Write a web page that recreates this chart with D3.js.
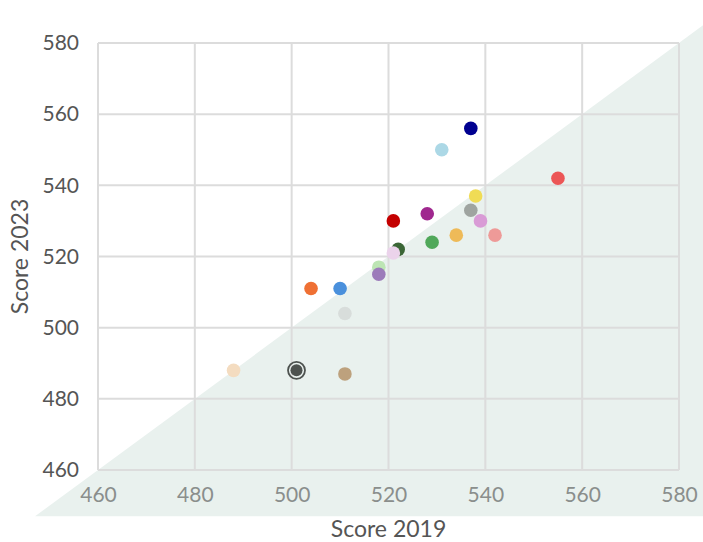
<!DOCTYPE html>
<html><head><meta charset="utf-8">
<script src="https://cdn.jsdelivr.net/npm/d3@7"></script>
<style>body{margin:0;background:#fff}svg{display:block;font-family:Lato,sans-serif}</style>
</head><body><svg id="c" width="703" height="542"></svg>
<script>
const score2019 = [537,531,538,537,539,542,534,529,528,521,522,521,518,518,504,510,511,501,511,488,555];
const score2023 = [556,550,537,533,530,526,526,524,532,530,522,521,517,515,511,511,504,488,487,488,542];
const colors = ["#000090","#acd8e6","#f0dc55","#9fa4a0","#d99bd6","#ee9a98","#eeba58","#50a85a","#a0288f","#c40000","#3b6636","#ebd3eb","#bde5b4","#9c7bba","#ef7034","#4a90dc","#d8dddb","#4d524f","#bda17d","#f4dcc0","#ec5656"];
const highlighted = [false,false,false,false,false,false,false,false,false,false,false,false,false,false,false,false,false,true,false,false,false];
const ticks = [460,480,500,520,540,560,580];

const svg = d3.select("#c");
const x = d3.scaleLinear().domain([460,580]).range([98,679]);
const y = d3.scaleLinear().domain([460,580]).range([470,43]);
const grid = "#dcdcdc";

const lo = 447, hi = 590;
svg.append("path").attr("d",d3.line()([[x(lo),y(lo)],[x(hi),y(hi)],[x(hi),y(lo)]])+"Z").attr("fill","#e9f1ee");

const g = svg.append("g");
g.selectAll(".vx").data(ticks).join("line").attr("x1",d=>x(d)).attr("x2",d=>x(d)).attr("y1",y(460)).attr("y2",y(580)).attr("stroke",grid).attr("stroke-width",2);
g.selectAll(".hy").data(ticks).join("line").attr("y1",d=>y(d)).attr("y2",d=>y(d)).attr("x1",x(460)).attr("x2",x(580)).attr("stroke",grid).attr("stroke-width",2);

const xa = svg.append("g").attr("transform",`translate(0,${y(460)})`).call(d3.axisBottom(x).tickValues(ticks).tickSize(0).tickPadding(17));
const ya = svg.append("g").attr("transform",`translate(${x(460)},0)`).call(d3.axisLeft(y).tickValues(ticks).tickSize(0).tickPadding(19));
[xa,ya].forEach(a=>{a.select(".domain").remove();a.selectAll("text").attr("font-family","Lato").attr("font-size",21);});
xa.selectAll("text").attr("fill","#8a8e8c");
ya.selectAll("text").attr("fill","#555");

const pts = d3.range(score2019.length).map(i=>({x:score2019[i],y:score2023[i],c:colors[i],h:highlighted[i]}));
const pg = svg.append("g");
pts.forEach(p=>{
  if(p.h){
    pg.append("circle").attr("cx",x(p.x)).attr("cy",y(p.y)).attr("r",8.5).attr("fill","none").attr("stroke",p.c).attr("stroke-width",1.8);
    pg.append("circle").attr("cx",x(p.x)).attr("cy",y(p.y)).attr("r",6).attr("fill",p.c);
  } else {
    pg.append("circle").attr("cx",x(p.x)).attr("cy",y(p.y)).attr("r",6.8).attr("fill",p.c);
  }
});

svg.append("text").attr("x",(x(460)+x(580))/2).attr("y",537).attr("text-anchor","middle").attr("font-size",23).attr("fill","#555").text("Score 2019");
svg.append("text").attr("transform",`translate(28,${(y(460)+y(580))/2}) rotate(-90)`).attr("text-anchor","middle").attr("font-size",23).attr("fill","#555").text("Score 2023");
</script></body></html>
